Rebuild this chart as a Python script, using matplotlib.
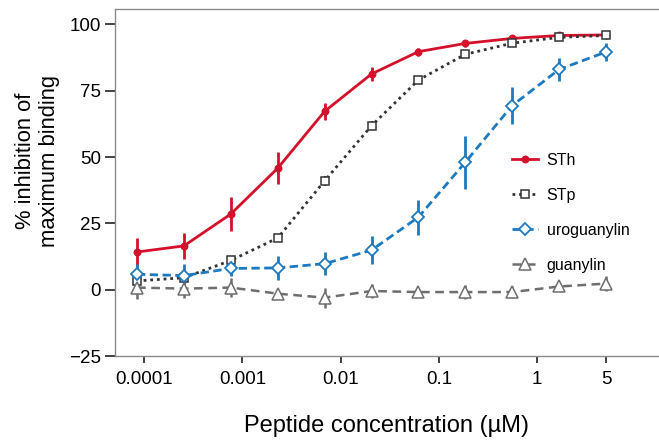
import matplotlib
matplotlib.use("Agg")
import matplotlib.pyplot as plt
import matplotlib.ticker as mticker
from matplotlib.lines import Line2D

plt.rcParams["font.family"] = ["Liberation Sans", "DejaVu Sans"]

# concentrations (uM), 3-fold dilutions down from 5 uM
conc = [0.0000847, 0.000254, 0.000762, 0.00229, 0.00686, 0.0206,
        0.0617, 0.185, 0.556, 1.667, 5.0]

sth = [14.2, 16.5, 28.5, 45.8, 67.2, 81.3, 89.7, 92.8, 94.7, 95.8, 96.0]
sth_err = [5.2, 5.0, 6.5, 6.0, 3.2, 2.5, 1.5, 1.3, 1.2, 1.0, 1.2]

stp = [3.3, 4.5, 11.0, 19.5, 41.0, 61.8, 79.0, 88.7, 92.9, 95.1, 95.8]
stp_err = [1.5, 1.5, 1.5, 1.5, 1.8, 1.8, 1.5, 1.5, 1.2, 1.0, 1.0]

urog = [5.8, 5.3, 8.0, 8.2, 9.8, 14.9, 27.3, 48.0, 69.4, 83.0, 89.6]
urog_err = [4.0, 4.4, 3.0, 4.4, 4.4, 5.2, 6.6, 10.0, 7.0, 4.5, 3.5]

guan = [0.8, 0.4, 0.8, -1.5, -3.0, -0.5, -0.9, -0.9, -0.9, 1.2, 2.3]
guan_err = [4.3, 3.7, 3.6, 1.2, 3.8, 2.5, 1.5, 2.5, 2.2, 1.5, 2.8]

labels = ["STh", "STp", "uroguanylin", "guanylin"]
xticks = [0.0001, 0.001, 0.01, 0.1, 1, 5]
xtick_labels = ["0.0001", "0.001", "0.01", "0.1", "1", "5"]

styles = [
    dict(color="#d5102b", linestyle="-", lw=2, marker="o", markersize=4.5,
         markerfacecolor="#d5102b", markeredgewidth=1.2),
    dict(color="#333333", linestyle=(0, (1.0, 1.4)), lw=2, marker="s", markersize=5.5,
         markerfacecolor="white", markeredgewidth=1.1),
    dict(color="#1d7ac0", linestyle=(0, (3.0, 1.6)), lw=2, marker="D", markersize=6.5,
         markerfacecolor="white", markeredgewidth=1.3),
    dict(color="#6e6e6e", linestyle=(0, (3.5, 2.2)), lw=1.8, marker="^", markersize=8.5,
         markerfacecolor="white", markeredgewidth=1.1),
]
series = [(sth, sth_err), (stp, stp_err), (urog, urog_err), (guan, guan_err)]
elw = [2, 1.5, 2, 1.8]

fig = plt.figure(figsize=(6.59, 4.41), dpi=100)
ax = fig.add_axes([0.1745, 0.1927, 0.8255, 0.787])

for (vals, errs), st, ew in zip(series, styles, elw):
    ax.errorbar(conc, vals, yerr=errs, elinewidth=ew, capsize=0, ecolor=st["color"], **st)

ax.set_xscale("log")
ax.set_xlim(5.06e-5, 17.3)
ax.set_ylim(-25, 105.8)
ax.set_xticks(xticks)
ax.set_xticklabels(xtick_labels)
ax.xaxis.set_minor_locator(mticker.NullLocator())
ax.set_yticks([-25, 0, 25, 50, 75, 100])
ax.set_yticklabels(["\u221225", "0", "25", "50", "75", "100"])

for side in ["left", "bottom", "top"]:
    ax.spines[side].set_color("#8a8a8a")
    ax.spines[side].set_linewidth(1.0)
ax.spines["right"].set_visible(False)
ax.tick_params(axis="y", length=7, width=1.2, color="#222222", labelsize=13.5, pad=3)
ax.tick_params(axis="x", length=5, width=1.2, color="#222222", labelsize=13.5, pad=6)

ax.set_xlabel("Peptide concentration (\u00b5M)", fontsize=17, labelpad=19)
fig.text(0.057, 0.635, "% inhibition of\nmaximum binding", rotation=90,
         ha="center", va="center", fontsize=15.8, linespacing=1.2)

handles = [Line2D([], [], **st) for st in styles]
ax.legend(handles, labels, loc="center left", bbox_to_anchor=(0.704, 0.412),
          frameon=False, fontsize=11.5, handlelength=1.6, labelspacing=1.25,
          handletextpad=0.55)

fig.savefig("out.png", dpi=100)
